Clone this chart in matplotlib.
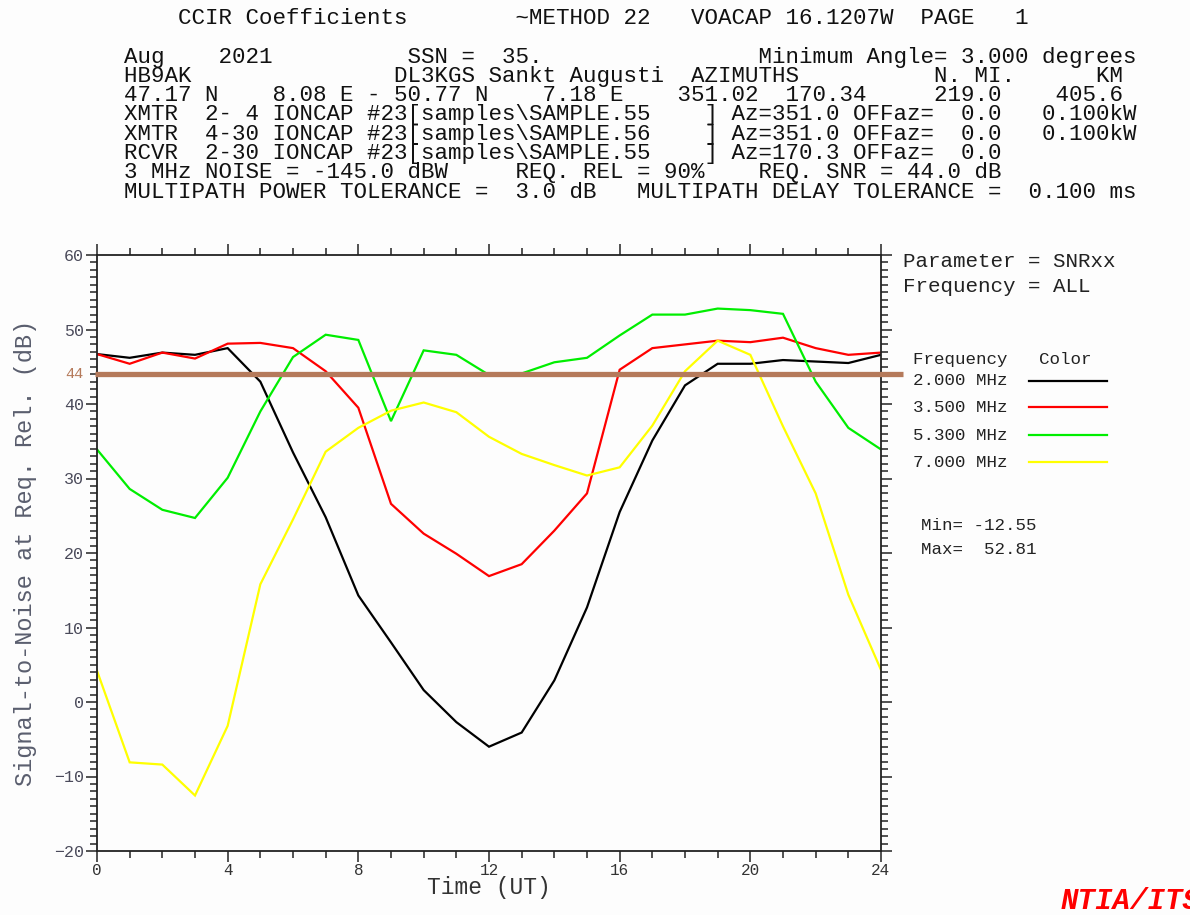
import matplotlib
matplotlib.use("Agg")
import matplotlib.pyplot as plt
from matplotlib.ticker import MultipleLocator
import matplotlib.transforms as mtransforms

plt.rcParams["font.family"] = ["Liberation Mono", "DejaVu Sans Mono"]

# VOACAP run header (fixed-width text block)
header_title = "    CCIR Coefficients        ~METHOD 22   VOACAP 16.1207W  PAGE   1"
header_lines = [
    "Aug    2021          SSN =  35.                Minimum Angle= 3.000 degrees",
    "HB9AK               DL3KGS Sankt Augusti  AZIMUTHS          N. MI.      KM",
    "47.17 N    8.08 E - 50.77 N    7.18 E    351.02  170.34     219.0    405.6",
    "XMTR  2- 4 IONCAP #23[samples\\SAMPLE.55    ] Az=351.0 OFFaz=  0.0   0.100kW",
    "XMTR  4-30 IONCAP #23[samples\\SAMPLE.56    ] Az=351.0 OFFaz=  0.0   0.100kW",
    "RCVR  2-30 IONCAP #23[samples\\SAMPLE.55    ] Az=170.3 OFFaz=  0.0",
    "3 MHz NOISE = -145.0 dBW     REQ. REL = 90%    REQ. SNR = 44.0 dB",
    "MULTIPATH POWER TOLERANCE =  3.0 dB   MULTIPATH DELAY TOLERANCE =  0.100 ms",
]

hours = list(range(25))
freq_labels = ["2.000 MHz", "3.500 MHz", "5.300 MHz", "7.000 MHz"]
freq_colors = ["#000000", "#ff0000", "#00ee00", "#ffff00"]

snr_2000 = [46.7, 46.2, 46.9, 46.6, 47.5, 43.0, 33.5, 24.8, 14.3, 8.0, 1.6, -2.7, -6.0,
            -4.1, 2.9, 12.7, 25.5, 35.1, 42.5, 45.4, 45.4, 45.9, 45.7, 45.5, 46.6]
snr_3500 = [46.7, 45.4, 46.9, 46.1, 48.1, 48.2, 47.5, 44.4, 39.5, 26.6, 22.6, 19.9, 16.9,
            18.5, 23.0, 28.0, 44.6, 47.5, 48.0, 48.5, 48.3, 48.9, 47.5, 46.6, 46.9]
snr_5300 = [33.9, 28.6, 25.8, 24.7, 30.1, 39.0, 46.3, 49.3, 48.6, 37.7, 47.2, 46.6, 43.9,
            44.1, 45.6, 46.2, 49.2, 52.0, 52.0, 52.81, 52.6, 52.1, 43.0, 36.8, 33.9]
snr_7000 = [4.2, -8.1, -8.4, -12.55, -3.2, 15.8, 24.5, 33.6, 36.8, 39.1, 40.2, 38.9, 35.6,
            33.3, 31.8, 30.4, 31.5, 37.1, 44.4, 48.5, 46.6, 37.0, 28.0, 14.4, 4.3]
series = [snr_2000, snr_3500, snr_5300, snr_7000]

req_snr = 44

W, H = 1190, 915
fig = plt.figure(figsize=(W / 100, H / 100), dpi=100, facecolor="#fdfdfd")

def px(x, y):
    return x / W, 1 - y / H

# header block
hdr_size = 16.2
fig.text(*px(124, 18), header_title, fontsize=hdr_size, va="center", ha="left", color="#111111")
for i, line in enumerate(header_lines):
    fig.text(*px(124, 57 + i * 19.3), line, fontsize=hdr_size, va="center", ha="left",
             color="#111111", linespacing=1.0)

ax = fig.add_axes([97 / W, 1 - 851 / H, (881 - 97) / W, (851 - 255) / H])
ax.set_facecolor("#fdfdfd")

for vals, col in zip(series, freq_colors):
    ax.plot(hours, vals, color=col, lw=1.6, solid_joinstyle="miter")

ax.set_xlim(0, 24)
ax.set_ylim(-20, 60)

# required SNR line runs a little past the right axis
ax.plot([-0.05, 24.68], [req_snr, req_snr], color="#b57a5b", lw=3.8, clip_on=False,
        solid_capstyle="butt", zorder=5)
trans = mtransforms.blended_transform_factory(ax.transAxes, ax.transData)
ax.text(-0.017, req_snr, str(req_snr), transform=trans, ha="right", va="center",
        fontsize=11, color="#b57a5b")

ax.xaxis.set_major_locator(MultipleLocator(4))
ax.xaxis.set_minor_locator(MultipleLocator(1))
ax.yaxis.set_major_locator(MultipleLocator(10))
ax.yaxis.set_minor_locator(MultipleLocator(1))
ax.tick_params(which="both", direction="out", top=True, right=True, color="#222222",
               width=1.1, labelcolor="#4a4a5a", labelsize=12)
ax.tick_params(which="major", length=8, pad=1.5)
ax.tick_params(which="minor", length=5)
ax.tick_params(axis="x", labelsize=11.5, labelcolor="#333333", pad=0.5)
for s in ax.spines.values():
    s.set_color("#222222")
    s.set_linewidth(1.3)

ax.set_ylabel("Signal-to-Noise at Req. Rel. (dB)", fontsize=17, color="#5a5e6e")
ax.yaxis.set_label_coords(-0.076, 0.5)
ax.set_xlabel("Time (UT)", fontsize=16.5, color="#333333", labelpad=-1.5)

# right-hand annotation panel
fig.text(*px(903, 262), "Parameter = SNRxx", fontsize=15, va="center", color="#222222")
fig.text(*px(903, 287), "Frequency = ALL", fontsize=15, va="center", color="#222222")
fig.text(*px(913, 359), "Frequency   Color", fontsize=12.6, va="center", color="#222222")
for i, (lab, col) in enumerate(zip(freq_labels, freq_colors)):
    y = 381 + i * 27
    fig.text(*px(913, y), lab, fontsize=12.6, va="center", color="#222222")
    fig.add_artist(plt.Line2D([1029 / W, 1107 / W], [1 - (y - 0.5) / H] * 2, color=col, lw=1.6))

all_vals = [v for s in series for v in s]
fig.text(*px(921, 526), f"Min= {min(all_vals):.2f}", fontsize=12.6, va="center", color="#222222")
fig.text(*px(921, 549), f"Max=  {max(all_vals):.2f}", fontsize=12.6, va="center", color="#222222")

fig.text(*px(1061, 901), "NTIA/ITS", fontsize=21, fontweight="bold", fontstyle="italic",
         color="#ff0000", va="center")

fig.savefig("out.png", dpi=100, facecolor=fig.get_facecolor())
